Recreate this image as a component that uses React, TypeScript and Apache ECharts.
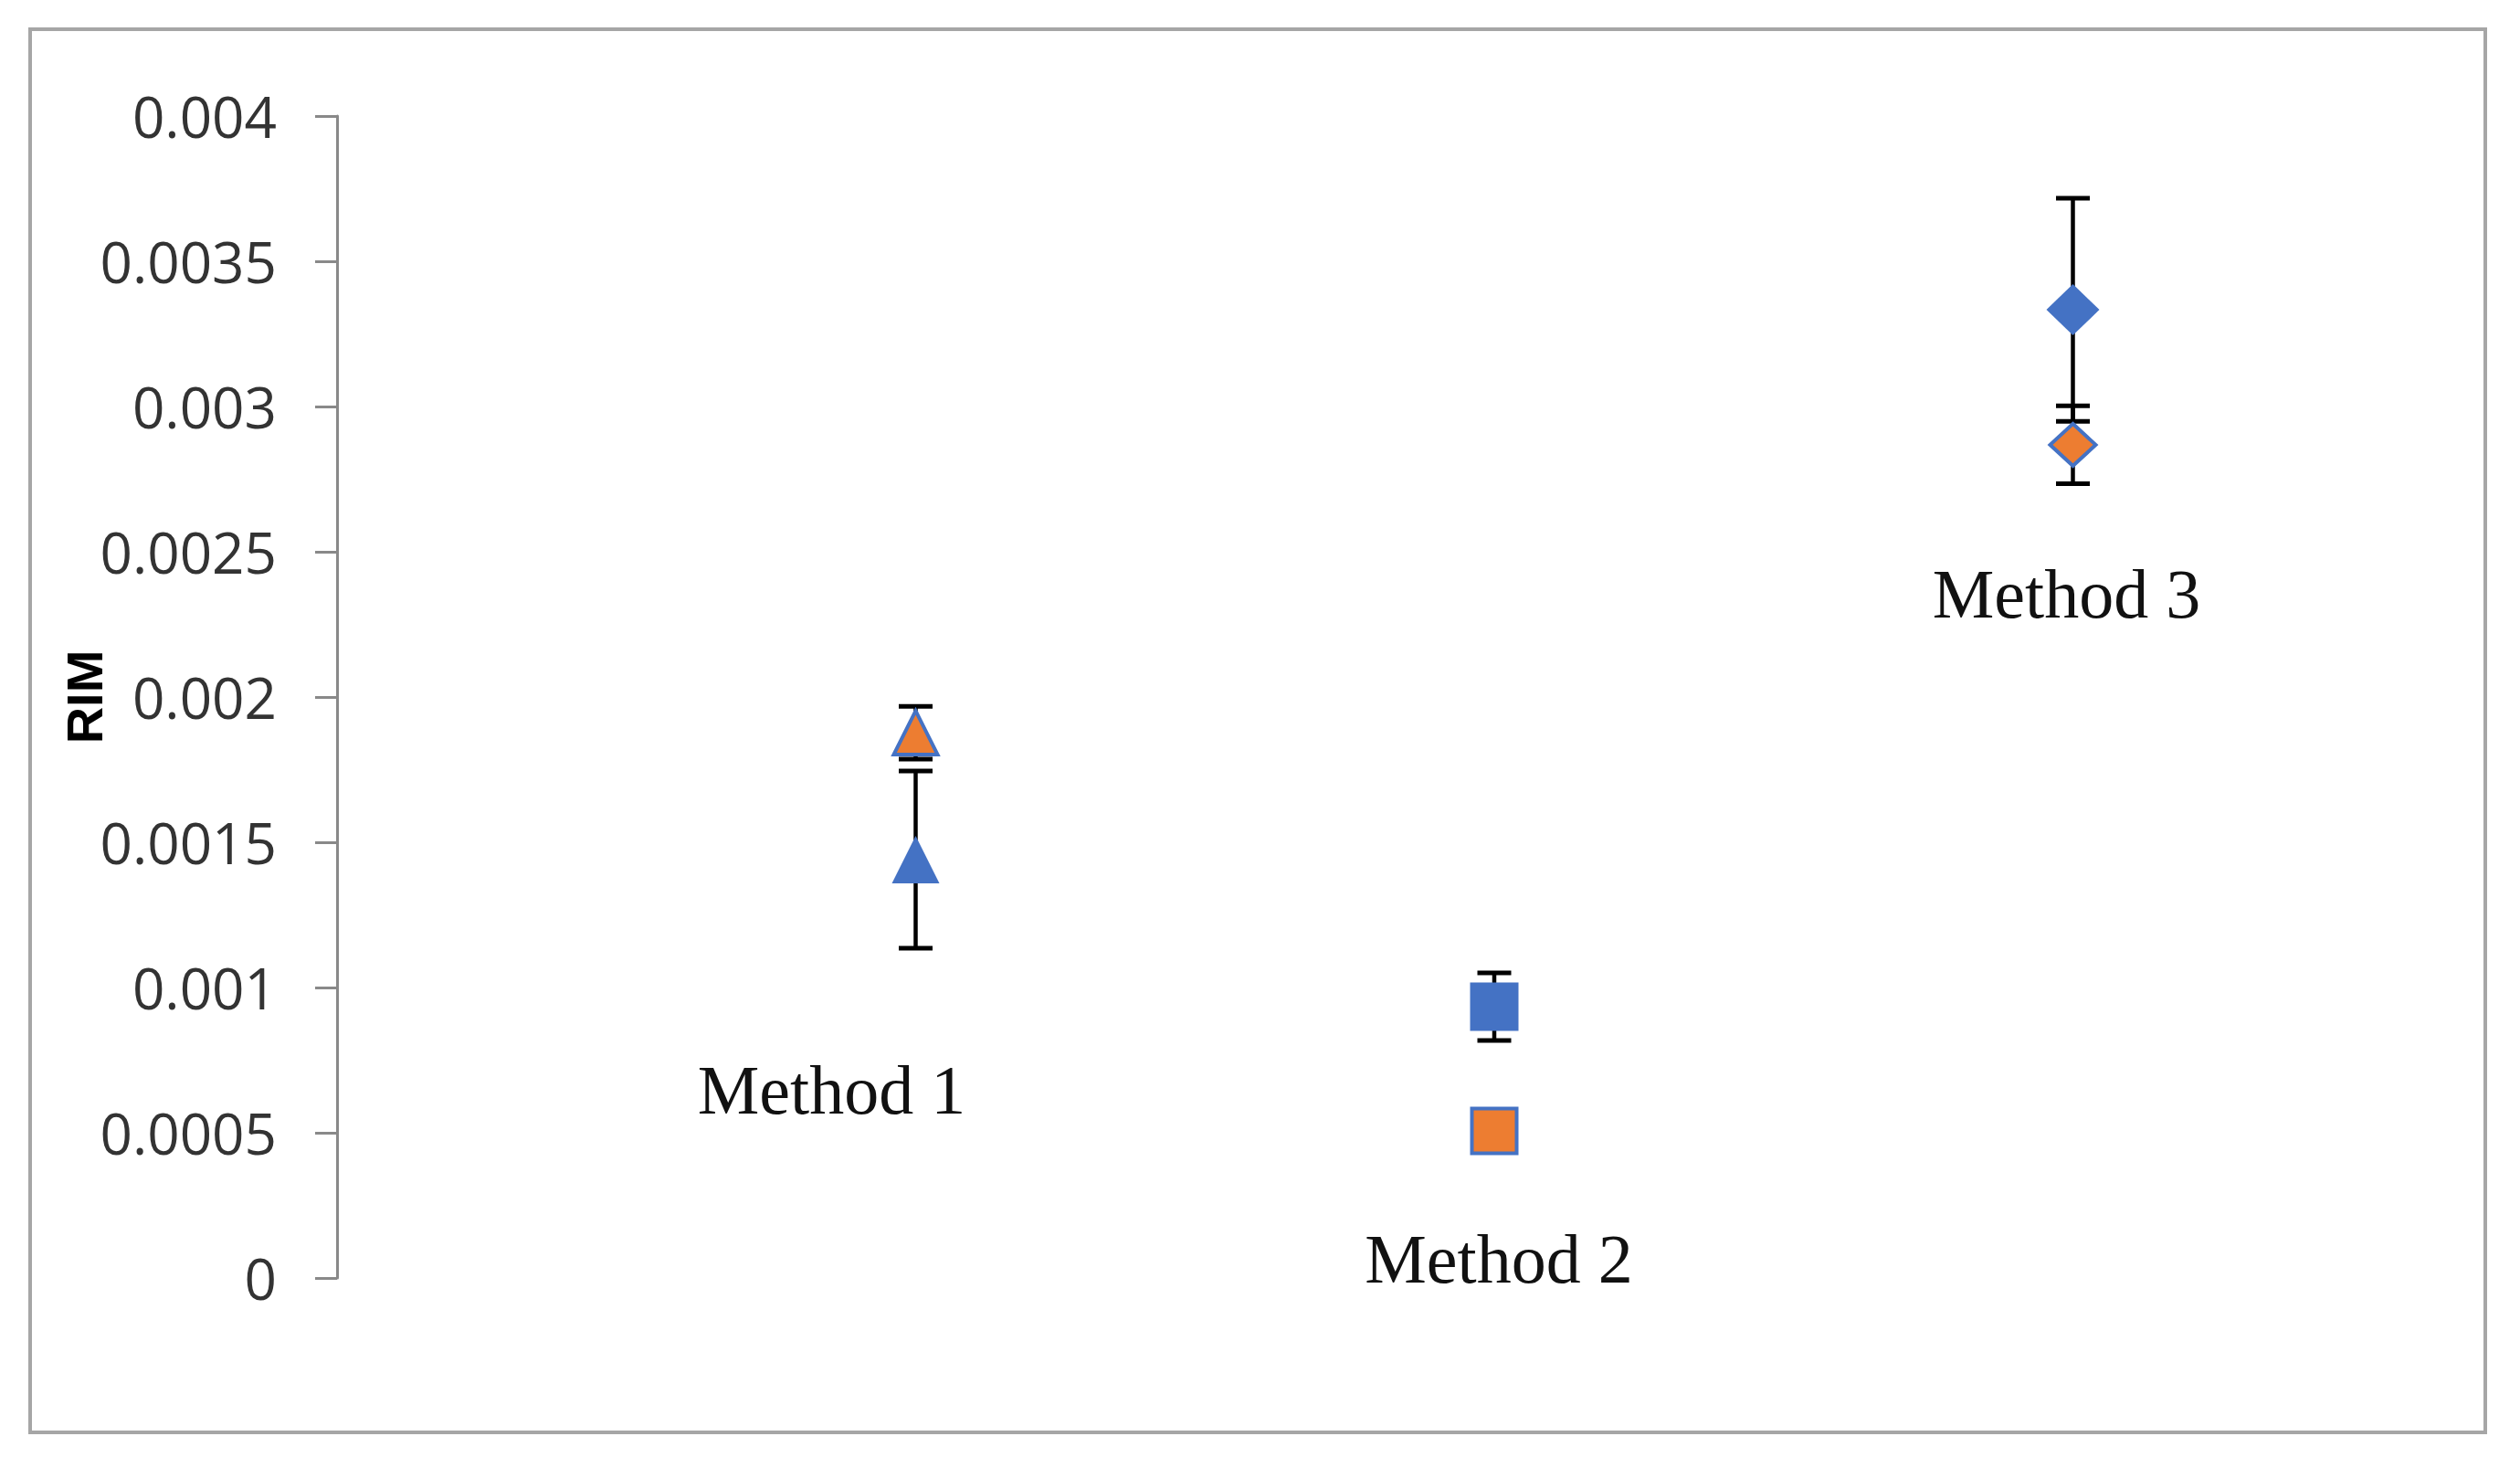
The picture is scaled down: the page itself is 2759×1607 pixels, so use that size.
import React, { useEffect, useRef } from 'react';
import * as echarts from 'echarts';

const categories = ['Method 1', 'Method 2', 'Method 3'];
const xPositions = [1, 2, 3];
const markerShapes = ['triangle', 'rect', 'diamond'];
const seriesA = [0.00144, 0.000934, 0.003333];
const seriesAErr = [0.000305, 0.000116, 0.000384];
const seriesB = [0.001877, 0.000506, 0.002868];
const seriesBErr = [0.000091, 0, 0.000134];
const yTickLabels = ['0', '0.0005', '0.001', '0.0015', '0.002', '0.0025', '0.003', '0.0035', '0.004'];
const yStep = 0.0005;

const BLUE = '#4472C4';
const ORANGE = '#ED7D31';

const blueSizes: any[] = [52, 53, [58, 56]];
const orangeSizes: any[] = [48, 49, [50, 46]];
const labelOffsets: any[] = [[-92, 252], [5, 276], [-7, 311]];

function errorRender(params: any, api: any) {
  const x = api.value(0);
  const y = api.value(1);
  const e = api.value(2);
  if (!e) return null;
  const top = api.coord([x, y + e]);
  const bot = api.coord([x, y - e]);
  const cap = 18.5;
  return {
    type: 'group',
    children: [
      { type: 'line', shape: { x1: top[0], y1: top[1], x2: bot[0], y2: bot[1] }, style: { stroke: '#000', lineWidth: 4.5 } },
      { type: 'line', shape: { x1: top[0] - cap, y1: top[1], x2: top[0] + cap, y2: top[1] }, style: { stroke: '#000', lineWidth: 5 } },
      { type: 'line', shape: { x1: bot[0] - cap, y1: bot[1], x2: bot[0] + cap, y2: bot[1] }, style: { stroke: '#000', lineWidth: 5 } },
    ],
  };
}

export default function App() {
  const ref = useRef<HTMLDivElement>(null);
  useEffect(() => {
    if (!ref.current) return;
    const chart = echarts.init(ref.current, null, { renderer: 'svg' });
    const xMax = 3.5;
    const unitPx = 633.5;
    chart.setOption({
      animation: false,
      backgroundColor: '#ffffff',
      graphic: [
        {
          type: 'rect',
          shape: { x: 33, y: 32, width: 2688, height: 1536 },
          style: { fill: 'none', stroke: '#a6a6a6', lineWidth: 4 },
          z: 0,
        },
      ],
      grid: {
        left: 369,
        top: 127,
        width: unitPx * xMax,
        height: 1272,
      },
      xAxis: {
        type: 'value',
        min: 0,
        max: xMax,
        show: false,
      },
      yAxis: {
        type: 'value',
        min: 0,
        max: 0.004,
        interval: yStep,
        name: 'RIM',
        nameLocation: 'middle',
        nameRotate: 90,
        nameGap: 249,
        nameMoveOverlap: false,
        nameTextStyle: {
          fontFamily: 'Liberation Sans',
          fontWeight: 'bold',
          fontSize: 56,
          color: '#000',
        },
        axisLine: { show: true, lineStyle: { color: '#898989', width: 3 } },
        axisTick: { show: true, inside: false, length: 24, lineStyle: { color: '#898989', width: 3 } },
        splitLine: { show: false },
        axisLabel: {
          fontFamily: 'Open Sans',
          fontSize: 62,
          color: '#333333',
          margin: 66,
          formatter: (v: number) => yTickLabels[Math.round(v / yStep)] ?? String(v),
        },
      },
      series: [
        {
          type: 'custom',
          name: 'errA',
          renderItem: errorRender,
          encode: { x: 0, y: 1 },
          data: xPositions.map((x, i) => [x, seriesA[i], seriesAErr[i]]),
          z: 1,
        },
        {
          type: 'custom',
          name: 'errB',
          renderItem: errorRender,
          encode: { x: 0, y: 1 },
          data: xPositions.map((x, i) => [x, seriesB[i], seriesBErr[i]]),
          z: 1,
        },
        {
          type: 'scatter',
          name: 'A',
          z: 3,
          data: xPositions.map((x, i) => ({
            value: [x, seriesA[i]],
            symbol: markerShapes[i],
            symbolSize: blueSizes[i],
            label: {
              show: true,
              position: 'inside',
              offset: labelOffsets[i],
              formatter: categories[i],
              fontFamily: 'Liberation Serif',
              fontSize: 76,
              color: '#111',
            },
          })),
          itemStyle: { color: BLUE, opacity: 1 },
        },
        {
          type: 'scatter',
          name: 'B',
          z: 4,
          data: xPositions.map((x, i) => ({
            value: [x, seriesB[i]],
            symbol: markerShapes[i],
            symbolSize: orangeSizes[i],
          })),
          itemStyle: { color: ORANGE, borderColor: BLUE, borderWidth: 4, opacity: 1 },
        },
      ],
    });
    return () => chart.dispose();
  }, []);
  return (
    <div
      ref={ref}
      style={{ position: 'fixed', left: 0, top: 0, width: 2759, height: 1607, background: '#fff' }}
    />
  );
}
